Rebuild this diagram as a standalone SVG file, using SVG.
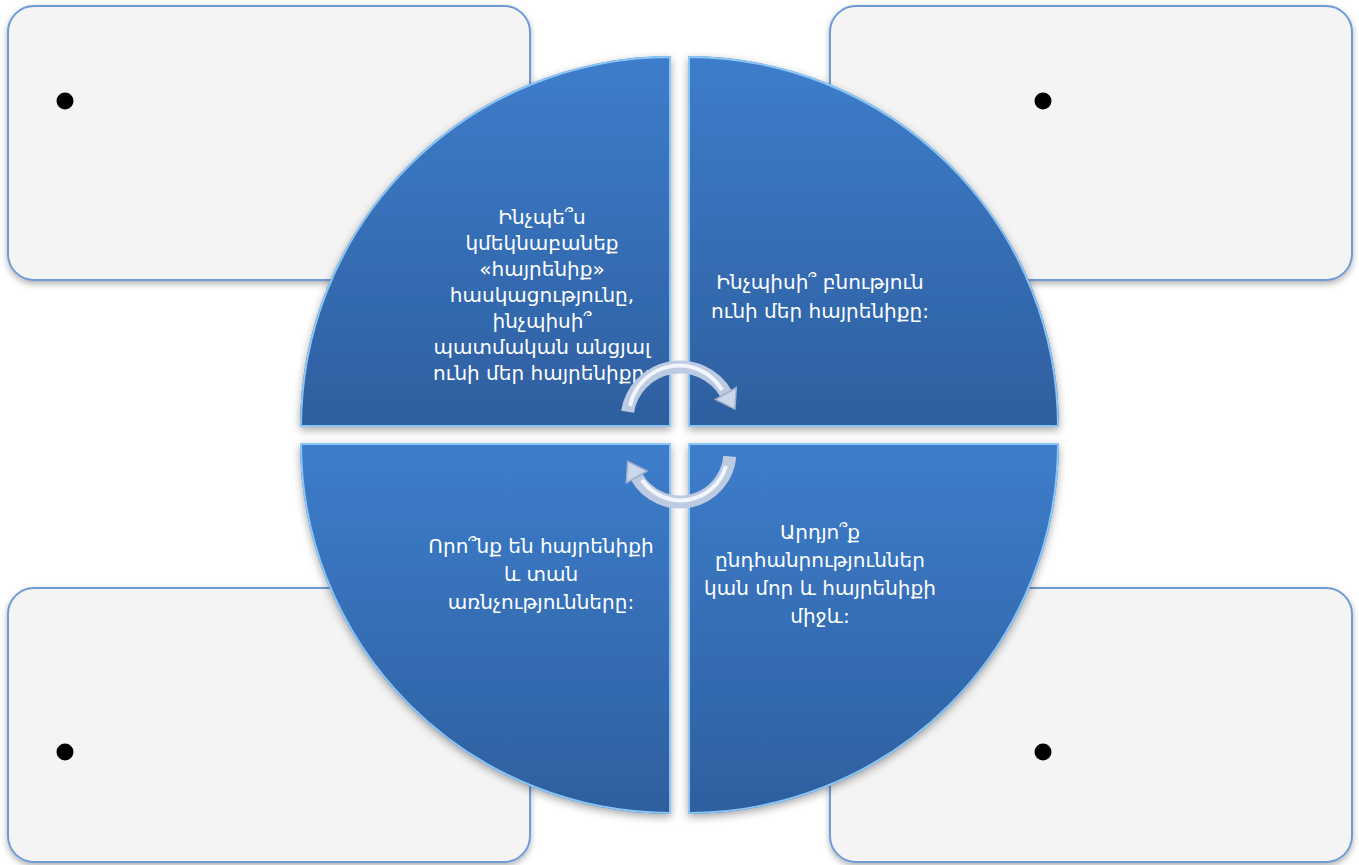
<svg xmlns="http://www.w3.org/2000/svg" width="1359" height="865" viewBox="0 0 1359 865">
<defs>
<style>
.box{fill:#f4f4f4;stroke:#6e9ad6;stroke-width:2;filter:url(#sh)}
.dot{fill:#000}
.q{fill:url(#qg);filter:url(#sh2)}
.qe{fill:none;stroke:#8cc6f5;stroke-width:4}
.t{font-family:"DejaVu Sans",sans-serif;font-size:20px;fill:#fff;text-anchor:middle}
.arc{fill:none;stroke:#bccae2;stroke-width:13}
.arch{fill:none;stroke:#f2f6fc;stroke-width:4}
.head{fill:#ccd7ea;stroke:#9fb0cc;stroke-width:1.5}
</style>
<linearGradient id="qg" x1="0" y1="0" x2="0" y2="1">
<stop offset="0" stop-color="#3d7dcb"/>
<stop offset="1" stop-color="#2e5f9f"/>
</linearGradient>
<filter id="sh" x="-5%" y="-5%" width="110%" height="115%">
<feDropShadow dx="0" dy="3" stdDeviation="3" flood-color="#000" flood-opacity="0.3"/>
</filter>
<filter id="sh2" x="-5%" y="-5%" width="110%" height="115%">
<feDropShadow dx="0" dy="3" stdDeviation="4" flood-color="#000" flood-opacity="0.35"/>
</filter>
<clipPath id="cTL"><path d="M671,427 L300,427 A371,371 0 0 1 671,56 Z"/></clipPath>
<clipPath id="cTR"><path d="M688,427 L688,56 A371,371 0 0 1 1059,427 Z"/></clipPath>
<clipPath id="cBL"><path d="M671,443 L671,814 A371,371 0 0 1 300,443 Z"/></clipPath>
<clipPath id="cBR"><path d="M688,443 L1059,443 A371,371 0 0 1 688,814 Z"/></clipPath>
</defs>
<rect width="1359" height="865" fill="#fff"/>
<g id="box-tl"><rect class="box" x="8" y="6" width="522" height="274" rx="26"/><circle class="dot" cx="65" cy="101" r="8.5"/></g>
<g id="box-tr"><rect class="box" x="830" y="6" width="522" height="274" rx="26"/><circle class="dot" cx="1043" cy="101" r="8.5"/></g>
<g id="box-bl"><rect class="box" x="8" y="588" width="522" height="274" rx="26"/><circle class="dot" cx="65" cy="752" r="8.5"/></g>
<g id="box-br"><rect class="box" x="830" y="588" width="522" height="274" rx="26"/><circle class="dot" cx="1043" cy="752" r="8.5"/></g>
<g id="q-tl">
<path class="q" d="M671,427 L300,427 A371,371 0 0 1 671,56 Z"/>
<path class="qe" clip-path="url(#cTL)" d="M671,427 L300,427 A371,371 0 0 1 671,56 Z"/>
<text class="t"><tspan x="542" y="224">Ինչպե՞ս</tspan><tspan x="542" y="250">կմեկնաբանեք</tspan><tspan x="542" y="276">«հայրենիք»</tspan><tspan x="542" y="302">հասկացությունը,</tspan><tspan x="542" y="328">ինչպիսի՞</tspan><tspan x="542" y="354">պատմական անցյալ</tspan><tspan x="542" y="380">ունի մեր հայրենիքը:</tspan></text>
</g>
<g id="q-tr">
<path class="q" d="M688,427 L688,56 A371,371 0 0 1 1059,427 Z"/>
<path class="qe" clip-path="url(#cTR)" d="M688,427 L688,56 A371,371 0 0 1 1059,427 Z"/>
<text class="t"><tspan x="820" y="289">Ինչպիսի՞ բնություն</tspan><tspan x="820" y="318">ունի մեր հայրենիքը:</tspan></text>
</g>
<g id="q-bl">
<path class="q" d="M671,443 L671,814 A371,371 0 0 1 300,443 Z"/>
<path class="qe" clip-path="url(#cBL)" d="M671,443 L671,814 A371,371 0 0 1 300,443 Z"/>
<text class="t"><tspan x="541" y="553">Որո՞նք են հայրենիքի</tspan><tspan x="541" y="581">և տան</tspan><tspan x="541" y="609">առնչությունները:</tspan></text>
</g>
<g id="q-br">
<path class="q" d="M688,443 L1059,443 A371,371 0 0 1 688,814 Z"/>
<path class="qe" clip-path="url(#cBR)" d="M688,443 L1059,443 A371,371 0 0 1 688,814 Z"/>
<text class="t"><tspan x="820" y="539">Արդյո՞ք</tspan><tspan x="820" y="567">ընդհանրություններ</tspan><tspan x="820" y="595">կան մոր և հայրենիքի</tspan><tspan x="820" y="623">միջև:</tspan></text>
</g>
<g id="connectors">
<path class="arc" d="M627.6,411.7 A53,53 0 0 1 725.9,393.5"/>
<path class="arch" d="M630,406 A50,50 0 0 1 722,390"/>
<polygon class="head" points="736.3,387.5 734.9,409.1 715.5,399.5"/>
<path class="arc" d="M729.8,456.4 A50,50 0 0 1 636.7,477"/>
<path class="arch" d="M726,466 A47,47 0 0 1 642,480"/>
<polygon class="head" points="647.1,471 627.7,461.4 626.3,483"/>
</g>
</svg>
